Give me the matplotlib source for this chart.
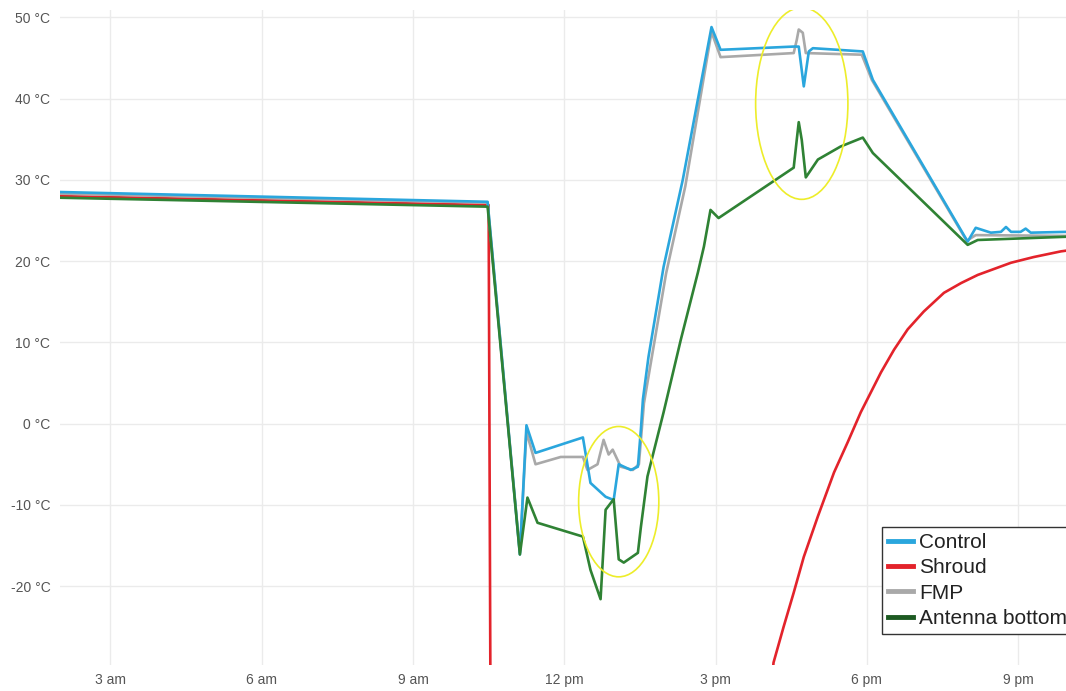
import matplotlib
matplotlib.use("Agg")
import matplotlib.pyplot as plt
from matplotlib.patches import Ellipse

plt.rcParams['font.family'] = ['Liberation Sans', 'DejaVu Sans']

# time of day in hours, temperature in degC
control_t = [2.01, 10.48, 11.12, 11.25, 11.43, 12.37, 12.52, 12.82, 12.98, 13.08,
             13.32, 13.46, 13.52, 13.56, 13.67, 13.97, 14.35, 14.92, 15.10, 16.55,
             16.65, 16.75, 16.85, 16.93, 17.92, 18.12, 20.00, 20.16, 20.46, 20.66,
             20.76, 20.86, 21.05, 21.15, 21.25, 21.97]
control = [28.5, 27.3, -16.1, -0.2, -3.6, -1.7, -7.3, -9.0, -9.4, -5.0,
           -5.7, -5.3, -0.7, 3.0, 8.2, 19.3, 30.0, 48.8, 46.0, 46.4,
           46.4, 41.5, 45.8, 46.2, 45.8, 42.3, 22.4, 24.1, 23.5, 23.6,
           24.2, 23.6, 23.6, 24.0, 23.5, 23.6]

shroud_t = [2.01, 10.50, 10.54, 16.00, 16.15, 16.35, 16.55, 16.75, 17.03, 17.35,
            17.62, 17.88, 18.28, 18.54, 18.81, 19.13, 19.53, 19.87, 20.20, 20.86,
            21.31, 21.85, 21.97]
shroud = [28.0, 26.9, -40.0, -40.0, -29.4, -25.0, -20.8, -16.4, -11.4, -6.0,
          -2.3, 1.4, 6.3, 9.1, 11.6, 13.8, 16.1, 17.3, 18.3, 19.8,
          20.5, 21.2, 21.3]

fmp_t = [2.01, 10.48, 11.12, 11.25, 11.43, 11.93, 12.37, 12.46, 12.66, 12.78,
         12.88, 12.96, 13.12, 13.36, 13.48, 13.58, 13.72, 14.02, 14.40, 14.92,
         15.10, 16.55, 16.61, 16.65, 16.73, 16.79, 17.90, 18.10, 19.98, 20.16,
         21.97]
fmp = [28.3, 27.2, -15.9, -1.0, -5.0, -4.1, -4.1, -5.7, -5.0, -2.0,
       -3.8, -3.2, -5.3, -5.7, -5.0, 2.5, 7.6, 18.5, 29.2, 48.2,
       45.1, 45.6, 47.2, 48.5, 48.1, 45.6, 45.4, 42.3, 22.5, 23.2,
       23.1]

antenna_t = [2.01, 10.48, 11.12, 11.27, 11.47, 12.37, 12.52, 12.72, 12.82, 12.98,
             13.08, 13.18, 13.46, 13.52, 13.65, 13.97, 14.31, 14.65, 14.77, 14.90,
             15.06, 16.55, 16.61, 16.65, 16.71, 16.79, 17.03, 17.48, 17.92, 18.12,
             20.00, 20.20, 21.97]
antenna = [27.8, 26.7, -16.1, -9.1, -12.2, -13.9, -18.0, -21.6, -10.6, -9.3,
           -16.7, -17.1, -15.9, -12.7, -6.5, 1.4, 10.3, 18.6, 21.8, 26.3,
           25.3, 31.5, 34.9, 37.1, 34.9, 30.3, 32.5, 34.1, 35.2, 33.3,
           22.0, 22.6, 23.0]

tick_hours = [3, 6, 9, 12, 15, 18, 21]
tick_names = ['3 am', '6 am', '9 am', '12 pm', '3 pm', '6 pm', '9 pm']
temp_ticks = [-20, -10, 0, 10, 20, 30, 40, 50]

fig = plt.figure(figsize=(10.66, 6.91), dpi=100)
ax = fig.add_axes([60 / 1066, 26 / 691, 1006 / 1066, 655 / 691])

lw = 1.9
ax.plot(shroud_t, shroud, color='#e3232b', lw=lw, label='Shroud', zorder=3)
ax.plot(fmp_t, fmp, color='#a9a9a9', lw=lw, label='FMP', zorder=4)
ax.plot(control_t, control, color='#2aa6dd', lw=lw, label='Control', zorder=5)
ax.plot(antenna_t, antenna, color='#2f8234', lw=lw, label='Antenna bottom', zorder=6)

# highlight the two disturbances
ax.add_patch(Ellipse((13.08, -9.6), 1.59, 18.5, fill=False, ec='#eded2a', lw=1.2, zorder=7))
ax.add_patch(Ellipse((16.71, 39.4), 1.83, 23.6, fill=False, ec='#eded2a', lw=1.2, zorder=7))

ax.set_xlim(2.0, 21.95)
ax.set_ylim(-29.7, 50.9)
ax.set_xticks(tick_hours)
ax.set_xticklabels(tick_names)
ax.set_yticks(temp_ticks)
ax.set_yticklabels(['%d °C' % t for t in temp_ticks])
ax.tick_params(length=0, labelsize=10, labelcolor='#555555')
ax.tick_params(axis='x', pad=6)
ax.tick_params(axis='y', pad=7)
ax.grid(True, color='#ebebeb', lw=1)
ax.set_axisbelow(True)
for s in ax.spines.values():
    s.set_visible(False)

handles, labels = ax.get_legend_handles_labels()
order = [2, 0, 1, 3]
leg = ax.legend([handles[i] for i in order], [labels[i] for i in order],
                loc='upper left', bbox_to_anchor=(0.817, 0.211), borderaxespad=0,
                fontsize=15, fancybox=False, framealpha=1, edgecolor='#333333',
                handlelength=1.2, handletextpad=0.3, labelspacing=0.3,
                borderpad=0.3)
leg.get_frame().set_linewidth(1.0)
for ln in leg.get_lines():
    ln.set_linewidth(3.5)
leg.get_lines()[3].set_color('#1d5a22')
for txt in leg.get_texts():
    txt.set_color('#222222')

fig.savefig('out.png', dpi=100)
